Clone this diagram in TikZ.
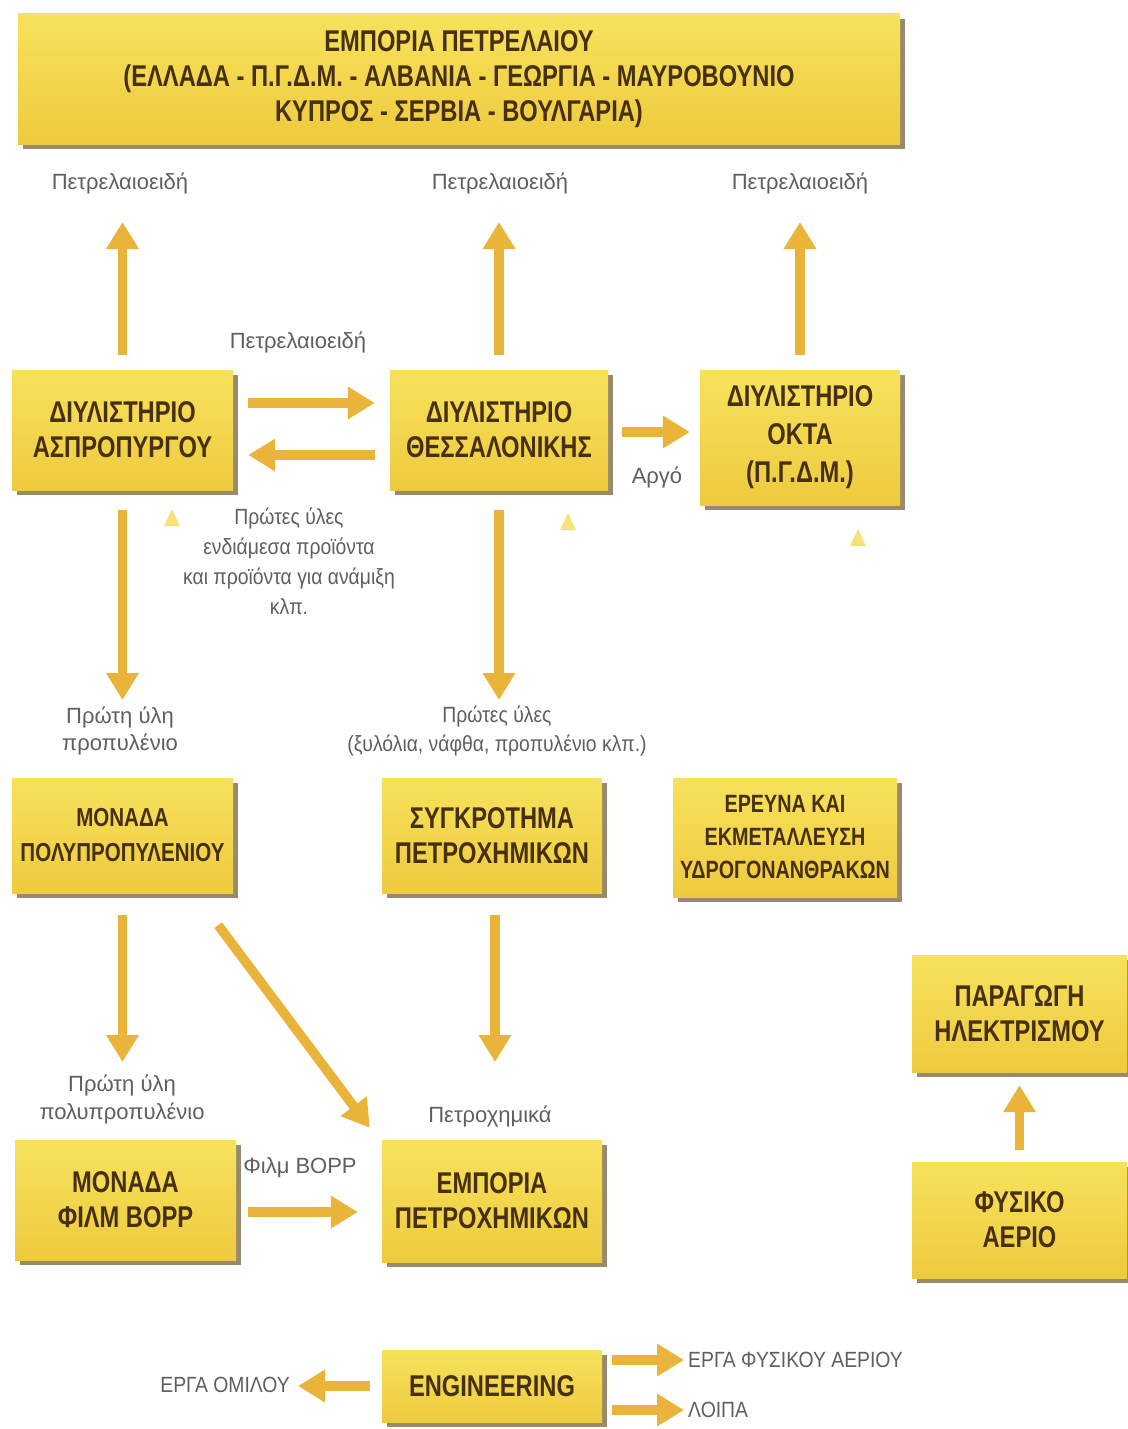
\documentclass[tikz,border=0pt]{standalone}
\usepackage{fontspec}
\newfontfamily\boxfont[FakeStretch=0.79]{Liberation Sans}
\newfontfamily\lblfont{Liberation Sans}
\newfontfamily\capfont[FakeStretch=0.88]{Liberation Sans}
\usetikzlibrary{arrows.meta,shadows,calc}
\definecolor{boxtop}{RGB}{247,226,92}
\definecolor{boxbot}{RGB}{238,202,62}
\definecolor{boxtext}{RGB}{70,48,16}
\definecolor{arrowc}{RGB}{234,180,58}
\definecolor{lbltext}{RGB}{95,95,95}
\definecolor{shadowc}{RGB}{120,100,60}
\definecolor{tric}{RGB}{247,226,120}
\begin{document}
\begin{tikzpicture}[x=1pt,y=-1pt,
 box/.style={top color=boxtop, bottom color=boxbot, inner sep=0pt, align=center, text=boxtext,
   font=\boxfont\bfseries\fontsize{30}{35}\selectfont,
   drop shadow={shadow xshift=5pt,shadow yshift=-5pt,fill=shadowc,opacity=0.75}},
 lbl/.style={text=lbltext, font=\lblfont\fontsize{22}{29}\selectfont, align=center, inner sep=0pt},
 caplbl/.style={text=lbltext, font=\capfont\fontsize{22}{29}\selectfont, inner sep=0pt},
 arr/.style={draw=arrowc, line width=9.5pt, -{Triangle[length=27pt,width=31pt]}},
 tri/.style={fill=tric}]
\useasboundingbox (0,0) rectangle (1127,1429);
\fill[white] (0,0) rectangle (1127,1429);

% boxes
\node[box, minimum width=882pt, minimum height=130pt] (top) at (459,79)
  {ΕΜΠΟΡΙΑ ΠΕΤΡΕΛΑΙΟΥ\\(ΕΛΛΑΔΑ - Π.Γ.Δ.Μ. - ΑΛΒΑΝΙΑ - ΓΕΩΡΓΙΑ - ΜΑΥΡΟΒΟΥΝΙΟ\\ΚΥΠΡΟΣ - ΣΕΡΒΙΑ - ΒΟΥΛΓΑΡΙΑ)};
\node[box, minimum width=221pt, minimum height=120pt] (asp) at (122.5,430) {ΔΙΥΛΙΣΤΗΡΙΟ\\ΑΣΠΡΟΠΥΡΓΟΥ};
\node[box, minimum width=218pt, minimum height=120pt] (thes) at (499,430) {ΔΙΥΛΙΣΤΗΡΙΟ\\ΘΕΣΣΑΛΟΝΙΚΗΣ};
\node[box, minimum width=200pt, minimum height=135pt, font=\boxfont\bfseries\fontsize{30}{38}\selectfont] (okta) at (800,437.5) {ΔΙΥΛΙΣΤΗΡΙΟ\\ΟΚΤΑ\\(Π.Γ.Δ.Μ.)};
\node[box, minimum width=221pt, minimum height=115pt, font=\boxfont\bfseries\fontsize{26}{35}\selectfont] (poly) at (122.5,835.5) {ΜΟΝΑΔΑ\\ΠΟΛΥΠΡΟΠΥΛΕΝΙΟΥ};
\node[box, minimum width=220pt, minimum height=115pt] (syg) at (492,835.5) {ΣΥΓΚΡΟΤΗΜΑ\\ΠΕΤΡΟΧΗΜΙΚΩΝ};
\node[box, minimum width=224pt, minimum height=119pt, font=\boxfont\bfseries\fontsize{25}{33}\selectfont] (expl) at (785,837.5) {ΕΡΕΥΝΑ ΚΑΙ\\ΕΚΜΕΤΑΛΛΕΥΣΗ\\ΥΔΡΟΓΟΝΑΝΘΡΑΚΩΝ};
\node[box, minimum width=215pt, minimum height=117pt] (power) at (1019.5,1013.5) {ΠΑΡΑΓΩΓΗ\\ΗΛΕΚΤΡΙΣΜΟΥ};
\node[box, minimum width=215pt, minimum height=116pt] (gas) at (1019.5,1220) {ΦΥΣΙΚΟ\\ΑΕΡΙΟ};
\node[box, minimum width=221pt, minimum height=120pt] (bopp) at (125.5,1200) {ΜΟΝΑΔΑ\\ΦΙΛΜ BOPP};
\node[box, minimum width=220pt, minimum height=122pt] (trade) at (492,1201) {ΕΜΠΟΡΙΑ\\ΠΕΤΡΟΧΗΜΙΚΩΝ};
\node[box, minimum width=220pt, minimum height=72pt] (eng) at (492,1386) {ENGINEERING};

% labels
\node[lbl] (lA) at (120,183) {Πετρελαιοειδή};
\node[lbl] (lB) at (500,183) {Πετρελαιοειδή};
\node[lbl] (lC) at (800,183) {Πετρελαιοειδή};
\node[lbl] (lD) at (298,342) {Πετρελαιοειδή};
\node[lbl, font=\capfont\fontsize{22}{30}\selectfont] (lE) at (289,561) {Πρώτες ύλες\\ενδιάμεσα προϊόντα\\και προϊόντα για ανάμιξη\\κλπ.};
\node[lbl] (lF) at (657,477) {Αργό};
\node[lbl, font=\lblfont\fontsize{22}{27}\selectfont] (lG) at (120,731) {Πρώτη ύλη\\προπυλένιο};
\node[lbl, font=\capfont\fontsize{22}{29}\selectfont] (lH) at (497,731) {Πρώτες ύλες\\(ξυλόλια, νάφθα, προπυλένιο κλπ.)};
\node[lbl, font=\lblfont\fontsize{22}{28}\selectfont] (lI) at (122,1099) {Πρώτη ύλη\\πολυπροπυλένιο};
\node[lbl] (lJ) at (300,1168) {Φιλμ BOPP};
\node[lbl] (lK) at (490,1116) {Πετροχημικά};
\node[caplbl, anchor=east] (lL) at (290,1385) {ΕΡΓΑ ΟΜΙΛΟΥ};
\node[caplbl, anchor=west] (lM) at (688,1360) {ΕΡΓΑ ΦΥΣΙΚΟΥ ΑΕΡΙΟΥ};
\node[caplbl, anchor=west] (lN) at (688,1410) {ΛΟΙΠΑ};

% arrow ends
\coordinate (tA) at (122.5,222);
\coordinate (tB) at (499,222);
\coordinate (tC) at (800,222);
\coordinate (tD) at (122.5,700);
\coordinate (tE) at (499,700);
\coordinate (tF) at (122.5,1062);
\coordinate (tG) at (495,1062);
\coordinate (tH) at (298,1386);
\coordinate (tI) at (684,1360);
\coordinate (tJ) at (684,1410);

% arrows
\draw[arr] ([yshift=15pt]asp.north) -- (tA);
\draw[arr] ([yshift=15pt]thes.north) -- (tB);
\draw[arr] ([yshift=15pt]okta.north) -- (tC);
\draw[arr, shorten <=15pt, shorten >=15pt] ([yshift=27pt]asp.east) -- ([yshift=27pt]thes.west);
\draw[arr, shorten <=15pt, shorten >=15pt] ([yshift=-25pt]thes.west) -- ([yshift=-25pt]asp.east);
\draw[arr, shorten <=14pt, shorten >=10pt] ([yshift=-2pt]thes.east) -- ([yshift=-2pt]thes.east -| okta.west);
\draw[arr] ([yshift=-20pt]asp.south) -- (tD);
\draw[arr] ([yshift=-20pt]thes.south) -- (tE);
\draw[arr] ([yshift=-22pt]poly.south) -- (tF);
\draw[arr] ([xshift=-15pt,yshift=-32pt]poly.south east) -- ([xshift=-12pt,yshift=12pt]trade.north west);
\draw[arr] ([xshift=3pt,yshift=-22pt]syg.south) -- (tG);
\draw[arr, shorten <=12pt, shorten >=24pt] ([yshift=-12pt]bopp.east) -- ([yshift=-12pt]bopp.east -| trade.west);
\draw[arr] ([yshift=12pt]gas.north) -- ([yshift=-13pt]power.south);
\draw[arr] ([xshift=-12pt]eng.west) -- (tH);
\draw[arr] ([xshift=10pt,yshift=26pt]eng.east) -- (tI);
\draw[arr] ([xshift=10pt,yshift=-24pt]eng.east) -- (tJ);

% small markers
\fill[tri] (164,526) -- (180,526) -- (172,509) -- cycle;
\fill[tri] (560,530) -- (576,530) -- (568,513) -- cycle;
\fill[tri] (850,546) -- (866,546) -- (858,529) -- cycle;
\end{tikzpicture}
\end{document}
